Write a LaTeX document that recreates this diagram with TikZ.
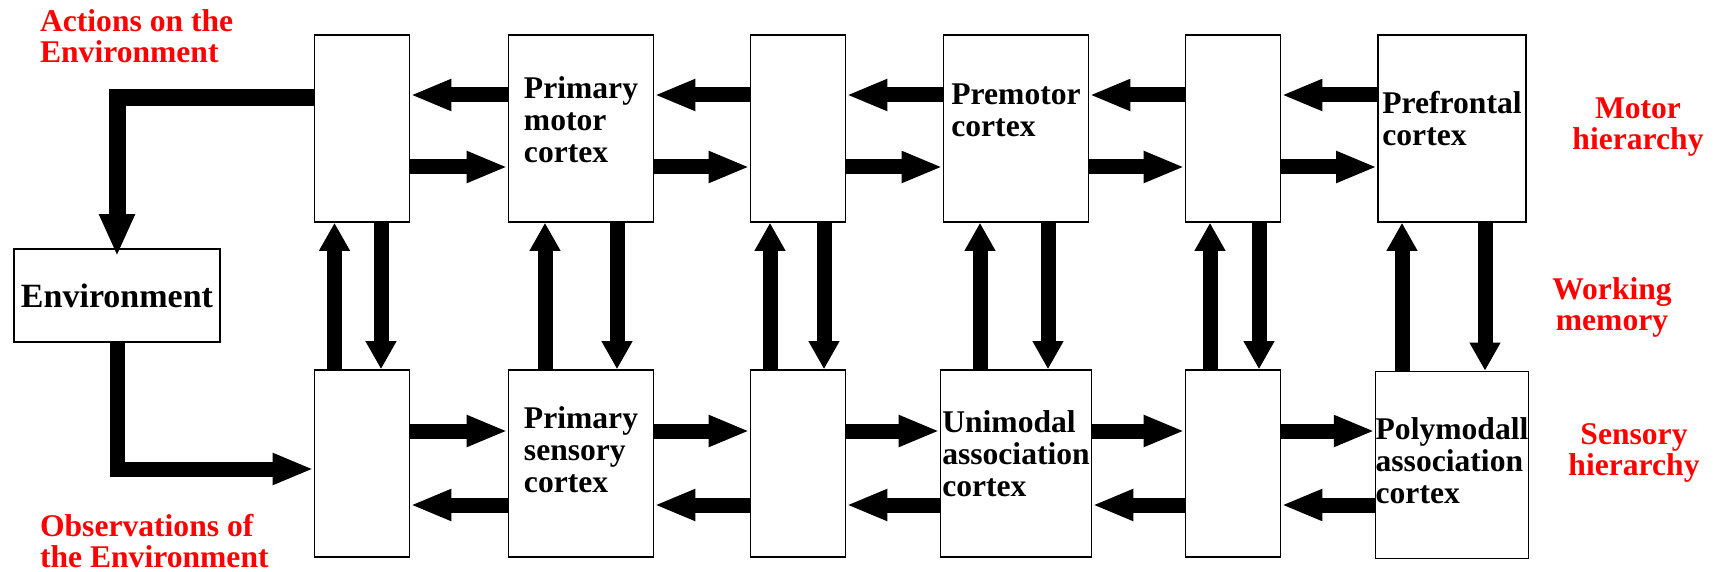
\documentclass[tikz,border=0pt]{standalone}
\usepackage{fontspec}
\setmainfont{Liberation Serif}
\usetikzlibrary{arrows.meta,positioning}

\tikzset{
  area/.style={draw, line width=0.8pt, fill=white, minimum height=93.5pt, inner sep=0pt,
    align=left, font=\bfseries\fontsize{15.8}{16}\selectfont},
  linkbox/.style={area, minimum width=47.5pt},
  cortex/.style={area, minimum width=72.5pt},
  harrow/.style={line width=7.5pt, -{Triangle[length=20.5pt,width=14.5pt]}},
  varrow/.style={line width=7.5pt, -{Triangle[length=14pt,width=14.5pt]}},
  redlabel/.style={text=red, font=\bfseries\fontsize{15.8}{15.5}\selectfont}
}

\begin{document}
\begin{tikzpicture}[x=0.5pt,y=-0.5pt]
    \useasboundingbox (0,0) rectangle (1714,572);

    % Motor hierarchy (top row)
    \node[linkbox] (mlink1) at (362,128.5) {};
    \node[cortex, text depth=9pt] (pmc) at (581,128.5) {Primary\\motor\\cortex};
    \node[linkbox] (mlink2) at (798,128.5) {};
    \node[cortex, text depth=18pt] (premotor) at (1016,128.5) {Premotor\\cortex};
    \node[linkbox] (mlink3) at (1233,128.5) {};
    \node[cortex, text depth=10pt, minimum width=74pt] (pfc) at (1452,128.5) {Prefrontal\\cortex};

    % Sensory hierarchy (bottom row)
    \node[linkbox] (slink1) at (362,463.5) {};
    \node[cortex, text depth=14pt] (psc) at (581,463.5) {Primary\\sensory\\cortex};
    \node[linkbox] (slink2) at (798,463.5) {};
    \node[cortex, text depth=10pt, minimum width=75.5pt] (unimodal) at (1016,463.5) {Unimodal\\association\\cortex};
    \node[linkbox] (slink3) at (1233,463.5) {};
    \node[cortex, text depth=4pt, minimum width=76pt] (polymodal) at (1452,465) {Polymodall\\association\\cortex};

    % Environment
    \node[area, minimum width=103pt, minimum height=46.5pt, font=\bfseries\fontsize{17}{17}\selectfont]
        (env) at (117,295.5) {Environment};

    % Red labels
    \node[redlabel, align=left, anchor=base west] (actions) at (33,63) {Actions on the\\Environment};
    \node[redlabel, align=left, anchor=base west] (observations) at (33,567) {Observations of\\the Environment};
    \node[redlabel, align=center, anchor=base] (motorlab) at (1638,150) {Motor\\hierarchy};
    \node[redlabel, align=center, anchor=base] (memorylab) at (1612,330) {Working\\memory};
    \node[redlabel, align=center, anchor=base] (sensorylab) at (1634,475) {Sensory\\hierarchy};

    % Loop through the environment
    \draw[line width=8.5pt, -{Triangle[length=21pt,width=16.5pt]}] ([yshift=15.25pt]mlink1.west) -| ([yshift=-4pt]env.north);
    \draw[harrow] (env.south) |- ([yshift=-2.75pt]slink1.west);

    % Top row: descending (right to left)
    \draw[harrow] ([yshift=16.75pt]pmc.west) -- ([yshift=16.75pt]mlink1.east);
    \draw[harrow] ([yshift=16.75pt]mlink2.west) -- ([yshift=16.75pt]pmc.east);
    \draw[harrow] ([yshift=16.75pt]premotor.west) -- ([yshift=16.75pt]mlink2.east);
    \draw[harrow] ([yshift=16.75pt]mlink3.west) -- ([yshift=16.75pt]premotor.east);
    \draw[harrow] ([yshift=16.75pt]pfc.west) -- ([yshift=16.75pt]mlink3.east);

    % Top row: ascending (left to right)
    \draw[harrow] ([yshift=-19.25pt]mlink1.east) -- ([yshift=-19.25pt]pmc.west);
    \draw[harrow] ([yshift=-19.25pt]pmc.east) -- ([yshift=-19.25pt]mlink2.west);
    \draw[harrow] ([yshift=-19.25pt]mlink2.east) -- ([yshift=-19.25pt]premotor.west);
    \draw[harrow] ([yshift=-19.25pt]premotor.east) -- ([yshift=-19.25pt]mlink3.west);
    \draw[harrow] ([yshift=-19.25pt]mlink3.east) -- ([yshift=-19.25pt]pfc.west);

    % Bottom row: ascending (left to right)
    \draw[harrow] ([yshift=16.25pt]slink1.east) -- ([yshift=16.25pt]psc.west);
    \draw[harrow] ([yshift=16.25pt]psc.east) -- ([yshift=16.25pt]slink2.west);
    \draw[harrow] ([yshift=16.25pt]slink2.east) -- ([yshift=16.25pt]unimodal.west);
    \draw[harrow] ([yshift=16.25pt]unimodal.east) -- ([yshift=16.25pt]slink3.west);
    \draw[harrow] ([yshift=16.25pt]slink3.east) -- ([yshift=17pt]polymodal.west);

    % Bottom row: descending (right to left)
    \draw[harrow] ([yshift=-20.75pt]psc.west) -- ([yshift=-20.75pt]slink1.east);
    \draw[harrow] ([yshift=-20.75pt]slink2.west) -- ([yshift=-20.75pt]psc.east);
    \draw[harrow] ([yshift=-20.75pt]unimodal.west) -- ([yshift=-20.75pt]slink2.east);
    \draw[harrow] ([yshift=-20.75pt]slink3.west) -- ([yshift=-20.75pt]unimodal.east);
    \draw[harrow] ([yshift=-20pt]polymodal.west) -- ([yshift=-20.75pt]slink3.east);

    % Working memory: up and down between rows
    \draw[varrow] ([xshift=-13.75pt]slink1.north) -- ([xshift=-13.75pt]mlink1.south);
    \draw[varrow] ([xshift=9.5pt]mlink1.south) -- ([xshift=9.5pt]slink1.north);
    \draw[varrow] ([xshift=-18pt]psc.north) -- ([xshift=-18pt]pmc.south);
    \draw[varrow] ([xshift=18pt]pmc.south) -- ([xshift=18pt]psc.north);
    \draw[varrow] ([xshift=-14pt]slink2.north) -- ([xshift=-14pt]mlink2.south);
    \draw[varrow] ([xshift=13pt]mlink2.south) -- ([xshift=13pt]slink2.north);
    \draw[varrow] ([xshift=-18pt]unimodal.north) -- ([xshift=-18pt]premotor.south);
    \draw[varrow] ([xshift=16pt]premotor.south) -- ([xshift=16pt]unimodal.north);
    \draw[varrow] ([xshift=-11.5pt]slink3.north) -- ([xshift=-11.5pt]mlink3.south);
    \draw[varrow] ([xshift=13pt]mlink3.south) -- ([xshift=13pt]slink3.north);
    \draw[varrow] ([xshift=-25pt]polymodal.north) -- ([xshift=-25pt]pfc.south);
    \draw[varrow] ([xshift=16.5pt]pfc.south) -- ([xshift=16.5pt]polymodal.north);
\end{tikzpicture}
\end{document}
